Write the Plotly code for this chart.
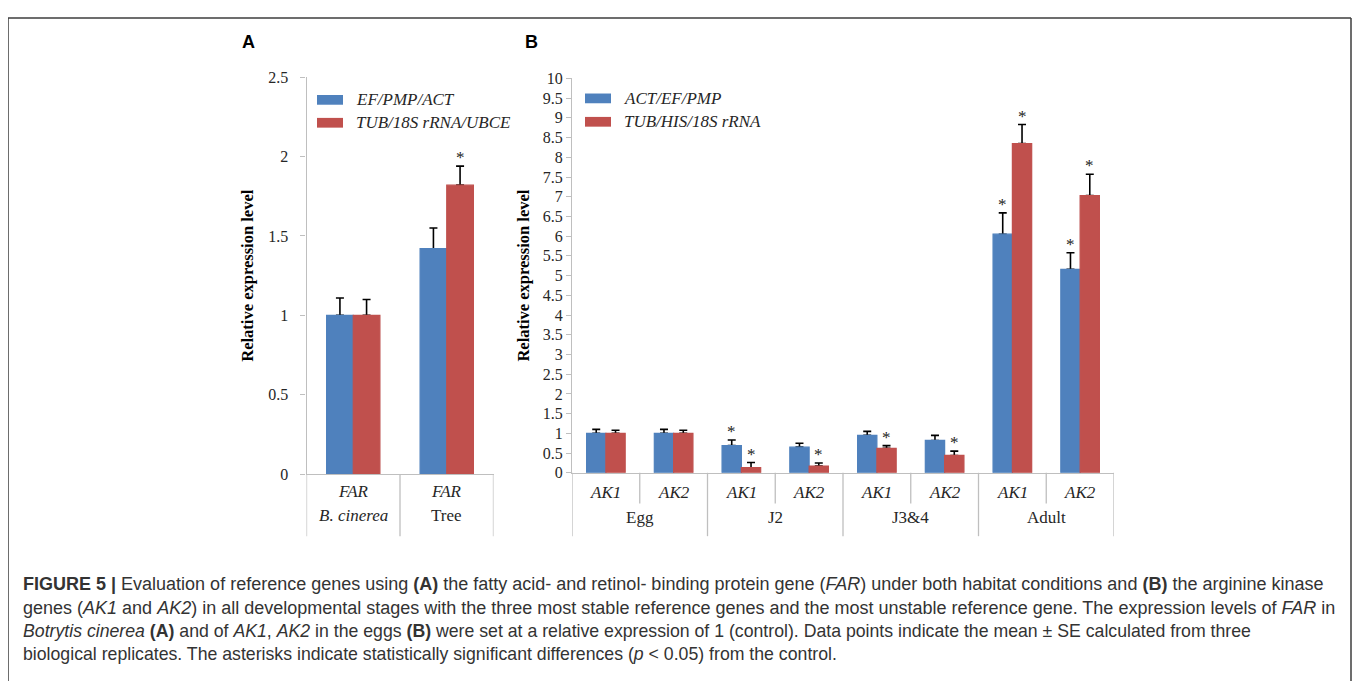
import plotly.graph_objects as go

# ---------------- data ----------------
A_cats = ["B. cinerea", "Tree"]
A_gene = ["FAR", "FAR"]
A_blue = [1.00, 1.42]
A_blue_err = [0.11, 0.13]
A_red = [1.00, 1.82]
A_red_err = [0.10, 0.12]
A_blue_sig = [False, False]
A_red_sig = [False, True]

B_stages = ["Egg", "J2", "J3&4", "Adult"]
B_genes = ["AK1", "AK2"]
B_blue = [1.00, 1.00, 0.69, 0.65, 0.95, 0.82, 6.05, 5.16]
B_blue_err = [0.10, 0.10, 0.14, 0.10, 0.10, 0.13, 0.54, 0.42]
B_red = [1.00, 1.00, 0.13, 0.17, 0.62, 0.44, 8.35, 7.03]
B_red_err = [0.08, 0.08, 0.13, 0.08, 0.07, 0.11, 0.48, 0.54]
B_blue_sig = [False, False, True, False, False, False, True, True]
B_red_sig = [False, False, True, True, True, True, True, True]

A_legend = ["EF/PMP/ACT", "TUB/18S rRNA/UBCE"]
B_legend = ["ACT/EF/PMP", "TUB/HIS/18S rRNA"]

caption = [
    "<b>FIGURE 5 |</b> Evaluation of reference genes using <b>(A)</b> the fatty acid- and retinol- binding protein gene (<i>FAR</i>) under both habitat conditions and <b>(B)</b> the arginine kinase",
    "genes (<i>AK1</i> and <i>AK2</i>) in all developmental stages with the three most stable reference genes and the most unstable reference gene. The expression levels of <i>FAR</i> in",
    "<i>Botrytis cinerea</i> <b>(A)</b> and of <i>AK1</i>, <i>AK2</i> in the eggs <b>(B)</b> were set at a relative expression of 1 (control). Data points indicate the mean ± SE calculated from three",
    "biological replicates. The asterisks indicate statistically significant differences (<i>p</i> &lt; 0.05) from the control.",
]
caption_sizes = [18, 18, 17.7, 17.7]   # first two lines are justified in the original

# ---------------- style ----------------
W, H = 1360, 681
PAGE_OFFSET = 8          # the page body margin shifts the figure by 8 px
BLUE = "#4f81bd"
RED = "#c0504d"
GRID = "#bfbfbf"
SERIF = "Liberation Serif, Times New Roman, serif"
SANS = "Liberation Sans, Arial, sans-serif"
TXT = "#262626"
BARGAP = 0.43


def px(x):
    return (x - PAGE_OFFSET) / W


def py(y):
    return 1 - (y - PAGE_OFFSET) / H


B_cats = [f"{s} {g}" for s in B_stages for g in B_genes]

fig = go.Figure()


def add_panel(xs, series, xa, ya, tag):
    # error-bar carriers (transparent) first, visible bars drawn over them
    for k, (vals, errs, color) in enumerate(series):
        fig.add_trace(go.Bar(
            x=xs, y=vals, offsetgroup=f"{tag}{k}", xaxis=xa, yaxis=ya,
            marker=dict(color="rgba(0,0,0,0)"), showlegend=False, hoverinfo="skip",
            error_y=dict(type="data", symmetric=False, array=errs,
                         arrayminus=[0] * len(errs), color="black",
                         thickness=1.6, width=4)))
    for k, (vals, errs, color) in enumerate(series):
        fig.add_trace(go.Bar(
            x=xs, y=vals, offsetgroup=f"{tag}{k}", xaxis=xa, yaxis=ya,
            marker=dict(color=color, line=dict(color=color, width=1.2)),
            showlegend=False))


add_panel(A_cats, [(A_blue, A_blue_err, BLUE), (A_red, A_red_err, RED)], "x", "y", "A")
add_panel(B_cats, [(B_blue, B_blue_err, BLUE), (B_red, B_red_err, RED)], "x2", "y2", "B")

annotations = []
shapes = []


def text(x, y, s, xref="paper", yref="paper", xanchor="center", yanchor="middle", **font):
    annotations.append(dict(x=x, y=y, xref=xref, yref=yref, text=s, showarrow=False,
                            xanchor=xanchor, yanchor=yanchor, font=font))


# significance stars
off = (1 - BARGAP) / 4


def stars(vals, errs, sig, side, xref, yref):
    for i, (v, e, s) in enumerate(zip(vals, errs, sig)):
        if s:
            annotations.append(dict(x=i + side * off, y=v + e, xref=xref, yref=yref,
                                    text="*", showarrow=False, xanchor="center", yanchor="bottom",
                                    yshift=-3, font=dict(family=SERIF, size=17, color="#222")))


stars(A_blue, A_blue_err, A_blue_sig, -1, "x", "y")
stars(A_red, A_red_err, A_red_sig, 1, "x", "y")
stars(B_blue, B_blue_err, B_blue_sig, -1, "x2", "y2")
stars(B_red, B_red_err, B_red_sig, 1, "x2", "y2")

# category table beneath the axes
AX_A_BOTTOM = 478
AX_B_BOTTOM = 476.5
TABLE_BOTTOM = 541.5
ROW1 = 495.5
ROW2 = 520

for i in range(len(A_cats) + 1):
    shapes.append(dict(type="line", xref="x", yref="paper", x0=i - 0.5, x1=i - 0.5,
                       y0=py(TABLE_BOTTOM), y1=py(AX_A_BOTTOM), line=dict(color=GRID, width=1.3)))
for i, (g, c) in enumerate(zip(A_gene, A_cats)):
    text(i, py(ROW1), f"<i>{g}</i>", xref="x", family=SERIF, size=17, color=TXT)
    lab = f"<i>{c}</i>" if "." in c else c
    text(i, py(ROW2), lab, xref="x", family=SERIF, size=17, color=TXT)

ng = len(B_genes)
for i in range(len(B_cats) + 1):
    major = i % ng == 0
    shapes.append(dict(type="line", xref="x2", yref="paper", x0=i - 0.5, x1=i - 0.5,
                       y0=py(TABLE_BOTTOM if major else 508), y1=py(AX_B_BOTTOM),
                       line=dict(color=GRID, width=1.3)))
for i, c in enumerate(B_cats):
    text(i, py(ROW1 + 1), f"<i>{B_genes[i % ng]}</i>", xref="x2", family=SERIF, size=17, color=TXT)
for j, s in enumerate(B_stages):
    text(j * ng + (ng - 1) / 2, py(ROW2 + 2), s, xref="x2", family=SERIF, size=17, color=TXT)


# legends (drawn manually to match the wide patch shapes)
def legend(x_patch, ys, labels):
    for yc, lab, col in zip(ys, labels, [BLUE, RED]):
        shapes.append(dict(type="rect", xref="paper", yref="paper",
                           x0=px(x_patch), x1=px(x_patch + 26), y0=py(yc + 5), y1=py(yc - 5),
                           fillcolor=col, line=dict(width=0)))
        text(px(x_patch + 37), py(yc), f"<i>{lab}</i>", xanchor="left",
             family=SERIF, size=17, color=TXT)


legend(317, [94, 117.5], A_legend)
legend(585, [92.5, 116.5], B_legend)

# panel letters
text(px(248), py(35), "<b>A</b>", family=SANS, size=18, color="black")
text(px(531), py(35), "<b>B</b>", family=SANS, size=18, color="black")

# caption
for k, (line, sz) in enumerate(zip(caption, caption_sizes)):
    text(px(21), py(591 + 23.7 * k), line, xanchor="left", family=SANS, size=sz, color="#333")

# outer frame
for (x0, y0, x1, y1) in [(8, 10, 1351, 10), (8, 10, 8, 700), (1351, 10, 1351, 700)]:
    shapes.append(dict(type="line", xref="paper", yref="paper", x0=px(x0), x1=px(x1),
                       y0=py(y0), y1=py(y1), line=dict(color="#3c3c3c", width=1.5)))

xcommon = dict(type="category", showline=True, linecolor=GRID, linewidth=1.3,
               showticklabels=False, ticks="", showgrid=False, zeroline=False)
ycommon = dict(showline=True, linecolor=GRID, linewidth=1.3, ticks="outside", ticklen=5,
               tickcolor=GRID, tickwidth=1.3, showgrid=False, zeroline=False, dtick=0.5, tick0=0,
               tickfont=dict(family=SERIF, size=16, color=TXT))
ytitle = dict(text="<b>Relative expression level</b>",
              font=dict(family=SERIF, size=16.5, color="black"))

fig.update_layout(
    width=W, height=H, margin=dict(l=0, r=0, t=0, b=0),
    paper_bgcolor="white", plot_bgcolor="rgba(0,0,0,0)",
    barmode="group", bargap=BARGAP, bargroupgap=0, showlegend=False,
    xaxis=dict(domain=[px(306.5), px(493.5)], range=[-0.5, len(A_cats) - 0.5], anchor="y", **xcommon),
    yaxis=dict(domain=[py(AX_A_BOTTOM), py(70.7)], range=[0, 2.5], anchor="x",
               title=dict(standoff=10, **ytitle), ticklabelstandoff=9, **ycommon),
    xaxis2=dict(domain=[px(572), px(1114)], range=[-0.5, len(B_cats) - 0.5], anchor="y2", **xcommon),
    yaxis2=dict(domain=[py(AX_B_BOTTOM), py(72)], range=[0, 10], anchor="x2",
                title=dict(standoff=8, **ytitle), ticklabelstandoff=0, **ycommon),
    annotations=annotations, shapes=shapes,
)

fig.write_html("out.html")
